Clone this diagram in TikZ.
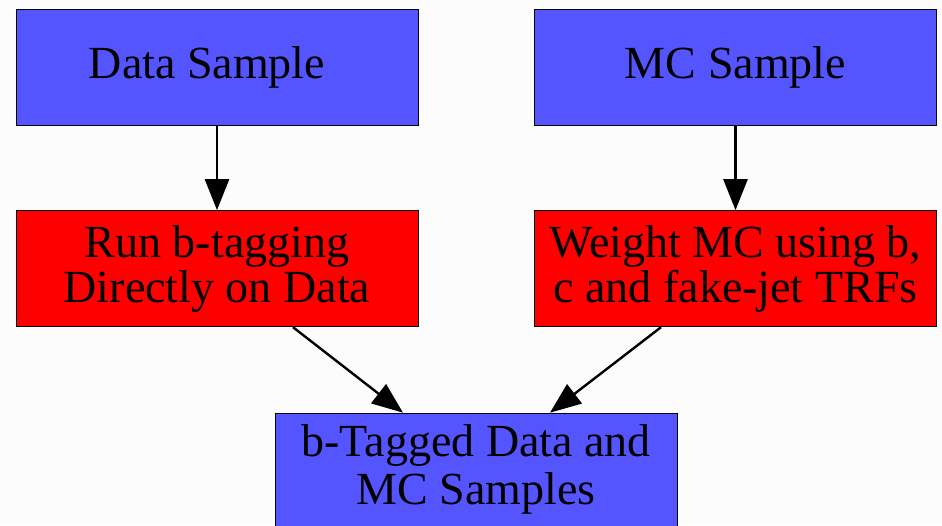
\documentclass[tikz,border=0pt]{standalone}
\usepackage{fontspec}
\setmainfont{Liberation Serif}
\usetikzlibrary{arrows.meta}
\definecolor{boxblue}{HTML}{5555FF}
\definecolor{boxred}{HTML}{FF0000}
\tikzset{
  stage/.style={draw=black, line width=1pt, inner sep=0pt, align=center,
    minimum width=402pt, minimum height=116pt,
    font=\fontsize{46}{45}\selectfont},
  bluebox/.style={stage, fill=boxblue},
  redbox/.style={stage, fill=boxred},
  flow/.style={line width=2.4pt, -{Triangle[length=31pt,width=24pt]}}
}
\begin{document}
\begin{tikzpicture}[x=1pt,y=1pt]
\useasboundingbox (0,0) rectangle (942,525);
\clip (0,0) rectangle (942,525);
\fill[white!99!black] (0,0) rectangle (942,525);
% pixel y -> 525 - y
\node[bluebox] (data) at (217,457.7) {\hspace*{-20pt}Data Sample};
\node[bluebox] (mc) at (735.5,457.7) {MC Sample};
\node[redbox] (run) at (217,256.3) {Run b-tagging\\Directly on Data};
\node[redbox] (wgt) at (735.5,256.3) {Weight MC using b,\\c and fake-jet TRFs};
\node[bluebox, minimum height=116pt, anchor=north] (out) at (476.3,112.3) {\raisebox{4pt}{\shortstack{\strut b-Tagged Data and\\\strut MC Samples}}};
\draw[flow] (data.south) -- (run.north);
\draw[flow] (mc.south) -- (wgt.north);
\draw[flow] (run.south -| 293,0) -- (out.north -| 403,0);
\draw[flow] (wgt.south -| 661,0) -- (out.north -| 550,0);
\end{tikzpicture}
\end{document}
